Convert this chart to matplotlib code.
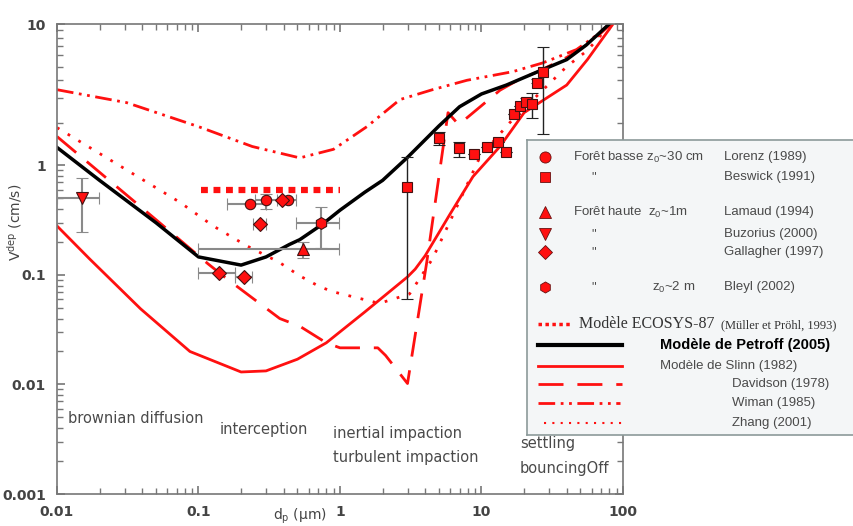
import numpy as np
import matplotlib.pyplot as plt
from matplotlib.ticker import FixedLocator, FixedFormatter, NullFormatter

# --- data (d_p in µm, V_dep in cm/s) ---
d_petroff = [0.01, 0.02, 0.05, 0.1, 0.2, 0.3, 0.44, 0.52, 0.75, 1, 1.5, 2, 3, 4, 5, 7, 10, 15, 25, 40, 55, 80]
v_petroff = [1.34, 0.73, 0.30, 0.146, 0.123, 0.146, 0.19, 0.21, 0.29, 0.39, 0.57, 0.73, 1.14, 1.52, 1.9, 2.6, 3.2, 3.7, 4.6, 5.6, 7.1, 10]

d_slinn = [0.01, 0.017, 0.039, 0.087, 0.2, 0.3, 0.5, 0.8, 1.5, 3, 3.4, 4, 6, 8.7, 13.5, 20, 26, 40, 56, 85]
v_slinn = [0.28, 0.14, 0.049, 0.020, 0.013, 0.0133, 0.017, 0.024, 0.046, 0.096, 0.113, 0.15, 0.36, 0.79, 1.36, 2.36, 2.8, 3.7, 5.6, 10]

d_davidson = [0.01, 0.05, 0.117, 0.159, 0.375, 0.52, 0.8, 1.0, 1.85, 2.1, 3.0, 4.1, 5.8, 6.9, 9.8, 13.5, 18, 25, 40, 60, 82]
v_davidson = [1.6, 0.32, 0.126, 0.092, 0.040, 0.034, 0.024, 0.0216, 0.0216, 0.0184, 0.0102, 0.13, 2.36, 1.94, 2.6, 3.4, 4.0, 4.6, 5.8, 7.5, 10]

d_wiman = [0.01, 0.031, 0.1, 0.24, 0.52, 0.9, 1.55, 2.65, 4.5, 7.9, 16.6, 27, 47, 68, 80]
v_wiman = [3.43, 2.78, 1.88, 1.36, 1.13, 1.30, 1.88, 2.92, 3.43, 4.0, 4.6, 5.3, 6.6, 8.6, 10]

d_zhang = [0.01, 0.074, 0.127, 0.22, 0.37, 0.52, 0.72, 0.9, 1.9, 3.1, 4.5, 6.7, 9.8, 15.8, 23, 40, 56, 82]
v_zhang = [1.85, 0.46, 0.28, 0.184, 0.131, 0.098, 0.078, 0.070, 0.055, 0.067, 0.14, 0.42, 1.16, 2.0, 2.9, 5.0, 6.5, 10]

d_ecosys = [0.105, 1.0]
v_ecosys = [0.6, 0.6]

# measurements: value, x low/high, y low/high
lorenz_d = [0.23, 0.30, 0.43]
lorenz_v = [0.44, 0.48, 0.48]
lorenz_dlo = [0.16, 0.25, 0.39]
lorenz_dhi = [0.30, 0.36, 0.49]
lorenz_vlo = [0.44, 0.40, 0.48]
lorenz_vhi = [0.44, 0.545, 0.48]

beswick_d = [2.97, 5.0, 6.9, 8.9, 11.0, 13.0, 15.0, 17.1, 18.7, 20.5, 22.8, 24.7, 27.0]
beswick_v = [0.63, 1.57, 1.32, 1.21, 1.36, 1.47, 1.25, 2.32, 2.64, 2.82, 2.74, 3.85, 4.6]
beswick_vlo = [0.06, 1.40, 1.14, 1.21, 1.36, 1.47, 1.25, 2.32, 2.64, 2.60, 2.18, 3.85, 1.68]
beswick_vhi = [1.14, 1.71, 1.47, 1.21, 1.36, 1.47, 1.25, 2.32, 2.64, 3.0, 3.26, 4.1, 6.9]

lamaud_d = [0.55]
lamaud_v = [0.172]
lamaud_dlo, lamaud_dhi = [0.10], [0.98]
lamaud_vlo, lamaud_vhi = [0.143], [0.20]

buzorius_d = [0.015]
buzorius_v = [0.50]
buzorius_dlo, buzorius_dhi = [0.01], [0.0198]
buzorius_vlo, buzorius_vhi = [0.246], [0.76]

gallagher_d = [0.139, 0.21, 0.27, 0.39]
gallagher_v = [0.104, 0.096, 0.29, 0.48]
gallagher_dlo = [0.10, 0.18, 0.243, 0.39]
gallagher_dhi = [0.18, 0.24, 0.30, 0.39]

bleyl_d = [0.74]
bleyl_v = [0.30]
bleyl_dlo, bleyl_dhi = [0.49], [0.98]
bleyl_vlo, bleyl_vhi = [0.176], [0.42]

# upper decade of the original figure is drawn taller than the lower ones
K = 142 / 110


def fwd(y):
    ly = np.log10(np.clip(np.asarray(y, float), 1e-12, None))
    return np.where(ly > 0, ly * K, ly)


def inv(v):
    v = np.asarray(v, float)
    return 10 ** np.where(v > 0, v / K, v)


def err(c, lo, hi):
    return [np.array(c) - np.array(lo), np.array(hi) - np.array(c)]


RED = '#ff1010'
GREY = '#4a4a4a'

fig = plt.figure(figsize=(8.54, 5.26), dpi=100)
ax = fig.add_axes([57 / 854, 32 / 526, 566 / 854, 470 / 526])
ax.set_xscale('log')
ax.set_yscale('function', functions=(fwd, inv))
ax.set_xlim(0.01, 100)
ax.set_ylim(0.001, 10)

ax.plot(d_wiman, v_wiman, color=RED, lw=2, ls=(0, (6, 2, 1, 2, 1, 2)))
ax.plot(d_zhang, v_zhang, color=RED, lw=2, ls=(0, (1, 3.5)))
ax.plot(d_davidson, v_davidson, color=RED, lw=2, ls=(0, (9, 5)))
ax.plot(d_slinn, v_slinn, color=RED, lw=2)
ax.plot(d_ecosys, v_ecosys, color=RED, lw=4.5, ls=(0, (1.1, 0.9)), solid_capstyle='butt')
ax.plot(d_petroff, v_petroff, color='black', lw=2.5)

ebk = dict(ls='none', mfc=RED, mec='#441111', mew=0.8, ecolor='#8a8a8a',
           elinewidth=1.5, capsize=4, capthick=1.5, zorder=5)
ax.errorbar(lamaud_d, lamaud_v, xerr=err(lamaud_d, lamaud_dlo, lamaud_dhi),
            yerr=err(lamaud_v, lamaud_vlo, lamaud_vhi), marker='^', ms=8, **ebk)
ax.errorbar(buzorius_d, buzorius_v, xerr=err(buzorius_d, buzorius_dlo, buzorius_dhi),
            yerr=err(buzorius_v, buzorius_vlo, buzorius_vhi), marker='v', ms=8, **ebk)
ax.errorbar(lorenz_d, lorenz_v, xerr=err(lorenz_d, lorenz_dlo, lorenz_dhi),
            yerr=err(lorenz_v, lorenz_vlo, lorenz_vhi), marker='o', ms=7.5, **ebk)
ax.errorbar(gallagher_d, gallagher_v, xerr=err(gallagher_d, gallagher_dlo, gallagher_dhi),
            marker='D', ms=7, **ebk)
ax.errorbar(bleyl_d, bleyl_v, xerr=err(bleyl_d, bleyl_dlo, bleyl_dhi),
            yerr=err(bleyl_v, bleyl_vlo, bleyl_vhi), marker='h', ms=8.5, **ebk)
ebk['ecolor'] = '#222222'
ebk['elinewidth'] = 1
ebk['capthick'] = 1
ax.errorbar(beswick_d, beswick_v, yerr=err(beswick_v, beswick_vlo, beswick_vhi),
            marker='s', ms=7.5, **ebk)

# axes styling
ax.xaxis.set_major_locator(FixedLocator([0.01, 0.1, 1, 10, 100]))
ax.xaxis.set_major_formatter(FixedFormatter(['0.01', '0.1', '1', '10', '100']))
ax.xaxis.set_minor_locator(FixedLocator([m * 10.0 ** e for e in range(-2, 2) for m in range(2, 10)]))
ax.xaxis.set_minor_formatter(NullFormatter())
ax.yaxis.set_major_locator(FixedLocator([0.001, 0.01, 0.1, 1, 10]))
ax.yaxis.set_major_formatter(FixedFormatter(['0.001', '0.01', '0.1', '1', '10']))
ax.yaxis.set_minor_locator(FixedLocator([m * 10.0 ** e for e in range(-3, 1) for m in range(2, 10)]))
ax.yaxis.set_minor_formatter(NullFormatter())
ax.tick_params(which='both', direction='in', top=True, right=True, color='#777777')
ax.tick_params(which='major', length=6, width=1.2, labelsize=10, labelcolor='#444444', pad=8)
ax.tick_params(which='minor', length=4, width=1)
for lab in ax.get_xticklabels() + ax.get_yticklabels():
    lab.set_fontweight('bold')
for s in ax.spines.values():
    s.set_color('#777777')
    s.set_linewidth(1.2)

ax.set_xlabel(r'd$_\mathregular{p}$ (µm)', fontsize=10, color='#444444')
ax.xaxis.set_label_coords((300 - 57) / 566, -0.026)
ax.set_ylabel(r'V$^\mathregular{dep}$ (cm/s)', fontsize=10, color='#444444')
ax.yaxis.set_label_coords(-0.058, (494 - 222) / 470)

txt = dict(fontsize=10.5, color=GREY, va='center', ha='left')
ax.text(0.012, 0.0049, 'brownian diffusion', **txt)
ax.text(0.14, 0.0039, 'interception', **txt)
ax.text(0.89, 0.0036, 'inertial impaction', **txt)
ax.text(0.89, 0.00216, 'turbulent impaction', **txt)
ax.text(18.7, 0.0029, 'settling', **txt)
ax.text(18.7, 0.00172, 'bouncingOff', **txt)

# legend box, laid out in pixel units of the figure
lax = fig.add_axes([527 / 854, 91 / 526, 330 / 854, 295 / 526])
lax.set_xlim(527, 857)
lax.set_ylim(435, 140)
lax.set_facecolor('#f4f6f7')
lax.set_xticks([])
lax.set_yticks([])
for s in lax.spines.values():
    s.set_color('#8c9a9a')
    s.set_linewidth(1.2)
lax.spines['right'].set_visible(False)

lt = dict(fontsize=9.5, color=GREY, va='center', family='Liberation Sans')
mk = dict(color=RED, mec='#661111', mew=0.6, ls='none')
lax.plot(545, 157, marker='o', ms=8, **mk)
lax.text(573, 157, r'Forêt basse z$_\mathregular{0}$~30 cm', **lt)
lax.text(724, 157, 'Lorenz (1989)', **lt)
lax.plot(545, 177, marker='s', ms=7, **mk)
lax.text(591, 177, '"', **lt)
lax.text(724, 177, 'Beswick (1991)', **lt)
lax.plot(545, 212, marker='^', ms=8, **mk)
lax.text(573, 212, r'Forêt haute  z$_\mathregular{0}$~1m', **lt)
lax.text(724, 212, 'Lamaud (1994)', **lt)
lax.plot(545, 234, marker='v', ms=8, **mk)
lax.text(591, 234, '"', **lt)
lax.text(724, 234, 'Buzorius (2000)', **lt)
lax.plot(545, 252, marker='D', ms=7, **mk)
lax.text(591, 252, '"', **lt)
lax.text(724, 252, 'Gallagher (1997)', **lt)
lax.plot(545, 287, marker='h', ms=8, **mk)
lax.text(591, 287, '"', **lt)
lax.text(652, 287, r'z$_\mathregular{0}$~2 m', **lt)
lax.text(724, 287, 'Bleyl (2002)', **lt)

lax.plot([538, 570], [324, 324], color=RED, lw=2.5, ls=(0, (1, 1)), solid_capstyle='butt')
lax.text(579, 324, 'Modèle ECOSYS-87', fontsize=11.5, color='#333333', va='center',
         family='Liberation Serif')
lax.text(721, 325, '(Müller et Pröhl, 1993)', fontsize=9, color='#333333', va='center',
         family='Liberation Serif')
lax.plot([538, 622], [345, 345], color='black', lw=3)
lax.text(660, 345, 'Modèle de Petroff (2005)', fontsize=10.5, color='black', va='center',
         family='Liberation Sans', fontweight='bold')
lax.plot([538, 622], [366, 366], color=RED, lw=2)
lax.text(660, 366, 'Modèle de Slinn (1982)', **lt)
lax.plot([538, 622], [384, 384], color=RED, lw=2, ls=(0, (9, 5)))
lax.text(732, 384, 'Davidson (1978)', **lt)
lax.plot([538, 620], [403, 403], color=RED, lw=2, ls=(0, (6, 2, 1, 2, 1, 2)))
lax.text(732, 403, 'Wiman (1985)', **lt)
lax.plot([544, 622], [423, 423], color=RED, lw=1.5, ls=(0, (1, 3)))
lax.text(732, 423, 'Zhang (2001)', **lt)

fig.savefig('out.png', dpi=100)
